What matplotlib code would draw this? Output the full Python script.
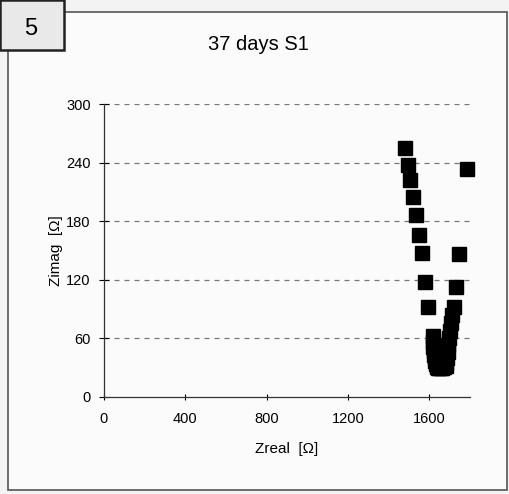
import matplotlib
matplotlib.use("Agg")
import matplotlib.pyplot as plt
from matplotlib.patches import Rectangle

plt.rcParams['font.family'] = ['Liberation Sans', 'DejaVu Sans']

# Nyquist data
zreal = [1478, 1494, 1503, 1519, 1532, 1548, 1564, 1580, 1592,
         1616, 1618, 1620, 1622, 1624, 1627, 1630, 1633, 1636, 1640,
         1645, 1650, 1656, 1662, 1668, 1674, 1680, 1684, 1687, 1690,
         1693, 1696, 1700, 1705, 1712, 1719, 1730, 1746, 1786]
zimag = [255, 238, 222, 205, 186, 166, 147, 118, 92,
         62, 56, 51, 47, 43, 40, 37, 34, 32, 31,
         30, 30, 30, 30, 31, 31, 32, 35, 40, 46,
         53, 60, 68, 76, 84, 92, 113, 146, 233]

xticks = [0, 400, 800, 1200, 1600]
yticks = [0, 60, 120, 180, 240, 300]
title = "37 days S1"
panel = "5"

W, H = 510, 494
fig = plt.figure(figsize=(W / 100, H / 100), dpi=100)
fig.patch.set_facecolor('#f3f3f3')

def px(x, y):
    # pixel coords (top-left origin) -> figure fraction
    return x / W, 1 - y / H

# outer frame of the scanned chart
frame = Rectangle(px(8, 490), (507 - 8) / W, (490 - 12) / H,
                  transform=fig.transFigure, facecolor='#fbfbfb',
                  edgecolor='#555555', lw=1.2, zorder=0)
fig.add_artist(frame)

# panel number box
box = Rectangle(px(0, 50), 64 / W, 50 / H, transform=fig.transFigure,
                facecolor='#e9e9e9', edgecolor='#222222', lw=1.8, zorder=1)
fig.add_artist(box)
fig.text(*px(31, 29), panel, fontsize=17, ha='center', va='center')

fig.text(*px(258, 45), title, fontsize=14.5, ha='center', va='center')

l, b = px(104, 397)
r, t = px(470, 104)
ax = fig.add_axes([l, b, r - l, t - b])
ax.set_facecolor('none')

for y in yticks[1:]:
    ax.axhline(y, color='#777777', lw=0.9, ls=(0, (4, 4)), zorder=1)

ax.plot(zreal, zimag, ls='none', marker='s', ms=10, color='black',
        zorder=3, clip_on=False)

ax.set_xlim(0, 1800)
ax.set_ylim(0, 300)
ax.set_xticks(xticks)
ax.set_yticks(yticks)
ax.tick_params(axis='y', direction='inout', length=7, width=0.8, labelsize=10.5, pad=6)
ax.tick_params(axis='x', direction='inout', length=4, width=0.8, labelsize=10.5, pad=9)
for s in ['top', 'right']:
    ax.spines[s].set_visible(False)
for s in ['left', 'bottom']:
    ax.spines[s].set_color('#333333')
    ax.spines[s].set_linewidth(0.9)

ax.set_xlabel("Zreal  [\u03a9]", fontsize=11, labelpad=11)
ax.set_ylabel("Zimag  [\u03a9]", fontsize=11, labelpad=2)

fig.savefig("out.png", dpi=100, facecolor=fig.get_facecolor())
